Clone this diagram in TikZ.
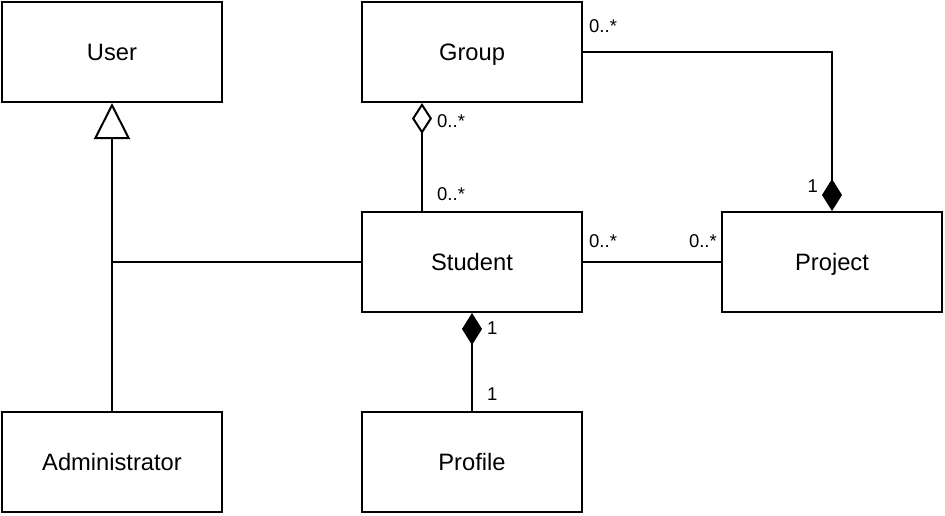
\documentclass[tikz,border=0pt]{standalone}
\usepackage{fontspec}
\setmainfont{Liberation Sans}
\usetikzlibrary{arrows.meta}
\begin{document}
\begin{tikzpicture}[x=1pt,y=-1pt,
  cls/.style={draw,line width=2pt,minimum width=220pt,minimum height=100pt,inner sep=0pt,text height=16.8pt,text depth=0pt,font=\fontsize{23.7}{28}\selectfont},
  conn/.style={line width=2pt},
  lbl/.style={inner sep=0pt,text height=13.2pt,text depth=0pt,font=\fontsize{18.5}{22}\selectfont},
  odiam/.style={-{Diamond[open,length=31pt,width=20pt]}},
  fdiam/.style={-{Diamond[length=32pt,width=20pt]}},
  gen/.style={-{Triangle[open,length=36pt,width=36pt]}}]
\useasboundingbox (0,0) rectangle (945,515);
\node[cls] (user) at (112,52) {User};
\node[cls] (group) at (472,52) {Group};
\node[cls] (student) at (472,262) {Student};
\node[cls] (project) at (832,262) {Project};
\node[cls] (admin) at (112,462) {Administrator};
\node[cls] (profile) at (472,462) {Profile};
\coordinate (j) at (112,262);
\draw[conn,gen] (admin.north) -- (user.south);
\draw[conn] (student.west) -- (j);
\draw[conn,odiam] (student.north -| 422,0) -- (group.south -| 422,0);
\draw[conn,fdiam] (group.east) -| (project.north);
\draw[conn] (student.east) -- (project.west);
\draw[conn,fdiam] (profile.north) -- (student.south);
\node[lbl,anchor=west] (l1) at (589,26) {0..*};
\node[lbl,anchor=east] (l2) at (818,186) {1};
\node[lbl,anchor=west] (l3) at (437,121) {0..*};
\node[lbl,anchor=west] (l4) at (437,194) {0..*};
\node[lbl,anchor=west] (l5) at (589,241) {0..*};
\node[lbl,anchor=east] (l6) at (717,241) {0..*};
\node[lbl,anchor=west] (l7) at (487,328) {1};
\node[lbl,anchor=west] (l8) at (487,394) {1};
\end{tikzpicture}
\end{document}
